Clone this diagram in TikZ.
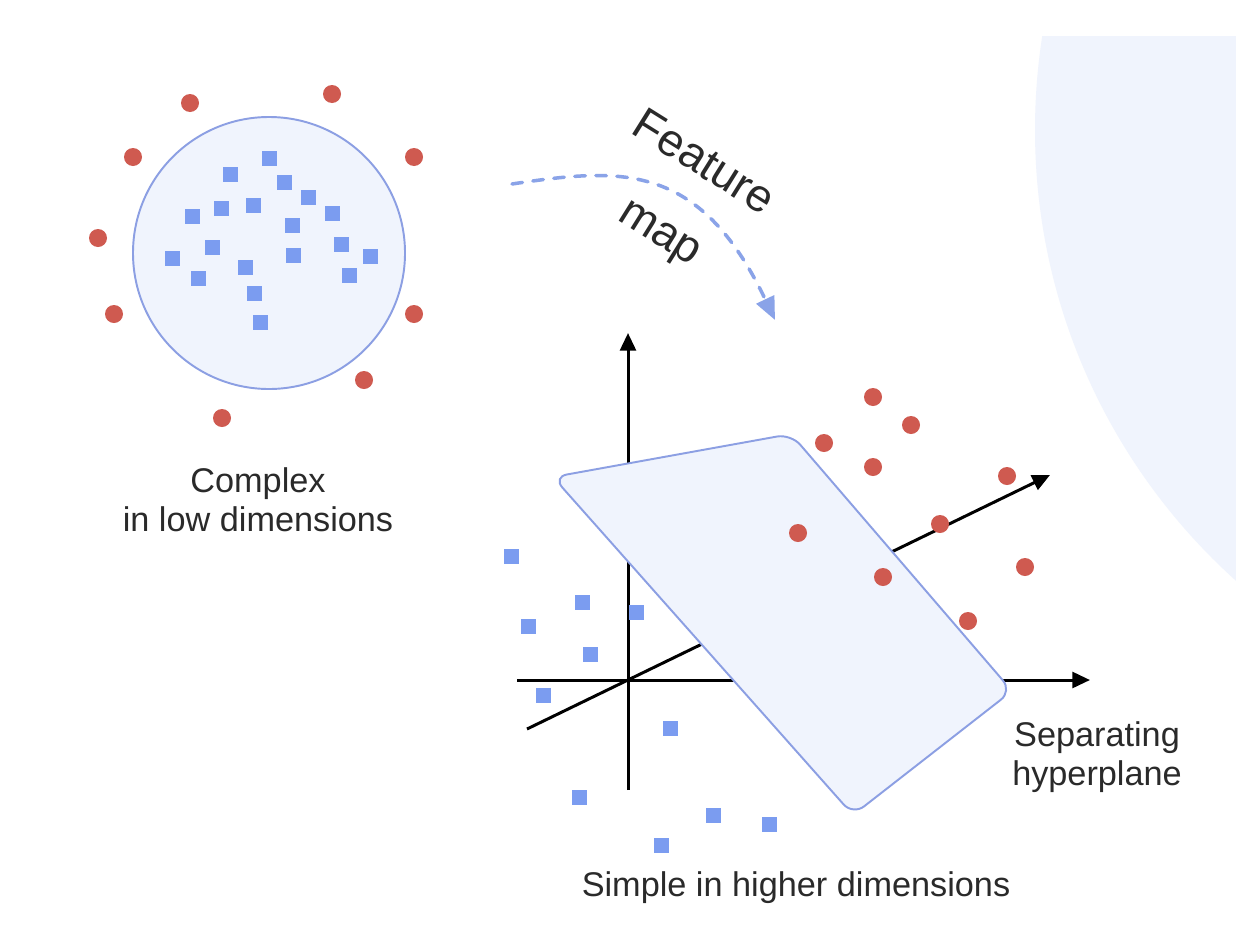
\documentclass[tikz,border=0pt]{standalone}
\usepackage{fontspec}
\setmainfont{Liberation Sans}
\definecolor{fmPale}{HTML}{F0F4FD}
\definecolor{fmEdge}{HTML}{8C9FE3}
\definecolor{fmBlue}{HTML}{7B9CF0}
\definecolor{fmRed}{HTML}{CF5A50}
\definecolor{fmDash}{HTML}{8AA3E8}
\definecolor{fmText}{HTML}{2A2A2A}
\usetikzlibrary{arrows.meta}

\begin{document}
\begin{tikzpicture}[x=0.02cm, y=-0.02cm,
  caption/.style={font=\fontsize{19.5}{22}\selectfont, text=fmText, align=center, inner sep=0pt},
  axisline/.style={line width=1.7pt, -{Triangle[length=10pt,width=9pt]}},
  sheet/.style={draw=fmEdge, fill=fmPale, line width=1.1pt}]
  % Canvas
  \useasboundingbox[fill=white] (0,0) rectangle (1236,950);

  % Backdrop disc, cut at the top
  \begin{scope}
    \clip (0,36) rectangle (1236,950);
    \fill[fmPale] (1641,130) circle[radius=606];
  \end{scope}

  % Low dimensional view
  \draw[sheet] (269,253) circle[radius=136];
  \foreach \p in {(269,158),(230,174),(284,182),(308,197),(221,208),(253,205),
                  (192,216),(332,213),(292,225),(212,247),(341,244),(370,256),
                  (172,258),(293,255),(245,267),(198,278),(349,275),(254,293),(260,322)}
    \fill[fmBlue] \p +(-7.5,-7.5) rectangle +(7.5,7.5);
  \foreach \p in {(190,103),(332,94),(133,157),(414,157),(98,238),
                  (114,314),(414,314),(364,380),(222,418)}
    \fill[fmRed] \p circle[radius=9];
  \node[caption] (lowdim) at (258,500) {Complex\\in low dimensions};

  % Feature map arrow
  \coordinate (fmfrom) at (512,184);
  \coordinate (fmto) at (775,320);
  \draw[fmDash, line width=2pt, line cap=round, dash pattern=on 6pt off 6pt,
        -{Triangle[length=13pt,width=11pt]}]
    (fmfrom) .. controls (619,168) and (699,160) .. (fmto);
  \node[caption, font=\fontsize{26}{46}\selectfont, rotate=-32] (fmap) at (681,199) {Feature\\map};

  % Axes
  \coordinate (origin) at (628,680);
  \coordinate (xfrom) at (517,680);
  \coordinate (xto) at (1090,680);
  \coordinate (yfrom) at (628,790);
  \coordinate (yto) at (628,333);
  \coordinate (zfrom) at (527,729);
  \coordinate (zto) at (1050,475);
  \draw[axisline] (xfrom) -- (xto);
  \draw[axisline] (yfrom) -- (yto);
  \draw[axisline] (zfrom) -- (zto);

  % Separating hyperplane
  \draw[sheet, rounded corners=8pt] (553,477) -- (791,434) -- (1012,691) -- (853,815) -- cycle;

  % High dimensional points
  \foreach \p in {(511,556),(582,602),(528,626),(636,612),(590,654),(543,695),
                  (670,728),(579,797),(713,815),(769,824),(661,845)}
    \fill[fmBlue] \p +(-7.5,-7.5) rectangle +(7.5,7.5);
  \foreach \p in {(873,397),(911,425),(824,443),(873,467),(1007,476),
                  (940,524),(798,533),(883,577),(1025,567),(968,621)}
    \fill[fmRed] \p circle[radius=9];

  % Captions
  \node[caption] (hyper) at (1097,757) {Separating\\hyperplane};
  \node[caption] (highdim) at (796,888) {Simple in higher dimensions};
\end{tikzpicture}
\end{document}
